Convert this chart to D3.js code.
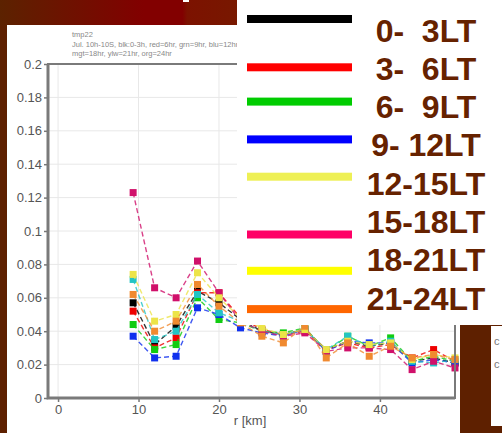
<!DOCTYPE html>
<html>
<head>
<meta charset="utf-8">
<script src="https://cdn.jsdelivr.net/npm/d3@7"></script>
<style>
  body { margin: 0; background: #5e2000; }
  svg { display: block; }
</style>
</head>
<body>
<script>

    // radius of each sample (km)
    var radius = [9.33, 12, 14.67, 17.33, 20, 22.67, 25.33, 28, 30.67, 33.33, 36, 38.67, 41.33, 44, 46.67, 49.33];

    var lt00_03 = [0.057, 0.032, 0.043, 0.064, 0.057, 0.047, 0.040, 0.038, 0.041, 0.029, 0.034, 0.031, 0.033, 0.022, 0.024, 0.021];
    var lt03_06 = [0.052, 0.030, 0.036, 0.063, 0.063, 0.048, 0.041, 0.038, 0.040, 0.029, 0.033, 0.030, 0.032, 0.024, 0.029, 0.022];
    var lt06_09 = [0.044, 0.029, 0.032, 0.060, 0.047, 0.045, 0.040, 0.039, 0.042, 0.028, 0.037, 0.031, 0.036, 0.022, 0.025, 0.022];
    var lt09_12 = [0.037, 0.024, 0.025, 0.054, 0.050, 0.042, 0.039, 0.037, 0.041, 0.028, 0.034, 0.033, 0.033, 0.021, 0.023, 0.021];
    var lt12_15 = [0.071, 0.035, 0.040, 0.062, 0.051, 0.046, 0.040, 0.038, 0.041, 0.029, 0.037, 0.031, 0.034, 0.022, 0.021, 0.023];
    var lt15_18 = [0.123, 0.066, 0.060, 0.082, 0.063, 0.046, 0.040, 0.037, 0.039, 0.028, 0.030, 0.030, 0.029, 0.017, 0.022, 0.018];
    var lt18_21 = [0.074, 0.046, 0.050, 0.075, 0.060, 0.048, 0.042, 0.038, 0.041, 0.029, 0.034, 0.032, 0.033, 0.023, 0.026, 0.024];
    var lt21_24 = [0.062, 0.040, 0.046, 0.068, 0.055, 0.045, 0.037, 0.033, 0.043, 0.024, 0.033, 0.025, 0.031, 0.024, 0.026, 0.023];

    var seriesValues = [lt00_03, lt03_06, lt06_09, lt09_12, lt12_15, lt15_18, lt18_21, lt21_24];
    var seriesColors = ["#000000", "#ee0000", "#11cc11", "#1030ee", "#22c4c4", "#d0106a", "#ece448", "#f08a30"];

    var legendLabels = ["0-  3LT", "3-  6LT", "6-  9LT", "9- 12LT", "12-15LT", "15-18LT", "18-21LT", "21-24LT"];
    var legendColors = ["#000000", "#ff0000", "#00cc00", "#0000ff", "#eef055", "#ff0066", "#ffff00", "#ff6600"];

    var titleLines = ["tmp22",
        "Jul. 10h-10S, blk:0-3h, red=6hr, grn=9hr, blu=12hr, cyn=15hr",
        "mgt=18hr, ylw=21hr, org=24hr"];

    var xTicks = [0, 10, 20, 30, 40];
    var yTicks = [0, 0.02, 0.04, 0.06, 0.08, 0.1, 0.12, 0.14, 0.16, 0.18, 0.2];
    var yTickLabels = ["0", "0.02", "0.04", "0.06", "0.08", "0.1", "0.12", "0.14", "0.16", "0.18", "0.2"];

    var W = 502, H = 433;
    var plot = { left: 48, right: 455, top: 64, bottom: 398 };

    var svg = d3.select("body").append("svg")
        .attr("width", W)
        .attr("height", H);

    // slide background
    var grad = svg.append("defs").append("linearGradient")
        .attr("id", "hdr")
        .attr("x1", "0").attr("x2", "1").attr("y1", "0").attr("y2", "0");
    grad.append("stop").attr("offset", "0").attr("stop-color", "#5c2200");
    grad.append("stop").attr("offset", "0.6").attr("stop-color", "#820000");
    grad.append("stop").attr("offset", "0.76").attr("stop-color", "#820000");
    grad.append("stop").attr("offset", "0.78").attr("stop-color", "#7c1200");
    grad.append("stop").attr("offset", "1").attr("stop-color", "#781800");

    svg.append("rect").attr("width", W).attr("height", H).attr("fill", "#5e2000");
    svg.append("rect").attr("width", 240).attr("height", 26).attr("fill", "url(#hdr)");
    // tip of the slide title glyph peeking in at the top
    svg.append("rect").attr("x", 183).attr("y", 0).attr("width", 6).attr("height", 2).attr("fill", "#fff");

    // white panel of the figure
    svg.append("rect")
        .attr("x", 7).attr("y", 25)
        .attr("width", 453).attr("height", H - 25)
        .attr("fill", "#fff");

    // bits of the next slide element, bottom right
    svg.append("rect").attr("x", 491).attr("y", 326).attr("width", 11).attr("height", 100).attr("fill", "#fff");
    svg.append("text").attr("x", 494).attr("y", 345)
        .style("font", "11px 'Liberation Sans', Arial, sans-serif").attr("fill", "#777").text("c");
    svg.append("text").attr("x", 494).attr("y", 368)
        .style("font", "11px 'Liberation Sans', Arial, sans-serif").attr("fill", "#777").text("c");

    var x = d3.scaleLinear()
        .domain([-1.25, 49.33])
        .range([plot.left, plot.right]);

    var y = d3.scaleLinear()
        .domain([0, 0.2])
        .range([plot.bottom, plot.top]);

    // grid
    svg.append("g").selectAll("line")
        .data(yTicks)
        .enter().append("line")
        .attr("x1", plot.left).attr("x2", plot.right)
        .attr("y1", function (d) { return y(d); })
        .attr("y2", function (d) { return y(d); })
        .attr("stroke", "#e8e8e8");

    svg.append("g").selectAll("line")
        .data(xTicks)
        .enter().append("line")
        .attr("y1", plot.top).attr("y2", plot.bottom)
        .attr("x1", function (d) { return x(d); })
        .attr("x2", function (d) { return x(d); })
        .attr("stroke", "#e8e8e8");

    // title text
    svg.append("g").selectAll("text")
        .data(titleLines)
        .enter().append("text")
        .attr("x", 72)
        .attr("y", function (d, i) { return 37 + i * 9.5; })
        .style("font", "7.5px 'Liberation Sans', Arial, sans-serif")
        .attr("fill", "#888")
        .text(function (d) { return d; });

    // axes
    var xAxis = d3.axisBottom(x).tickValues(xTicks).tickSize(4).tickPadding(3),
        yAxis = d3.axisLeft(y).tickValues(yTicks).tickSize(4).tickPadding(2)
            .tickFormat(function (d, i) { return yTickLabels[i]; });

    var gx = svg.append("g")
        .attr("transform", "translate(0," + plot.bottom + ")")
        .call(xAxis);
    var gy = svg.append("g")
        .attr("transform", "translate(" + plot.left + ",0)")
        .call(yAxis);

    [gx, gy].forEach(function (g) {
        g.select(".domain").remove();
        g.selectAll(".tick line").attr("stroke", "#777").attr("stroke-width", 1.5);
        g.selectAll(".tick text")
            .attr("fill", "#555")
            .style("font", "13px 'Liberation Sans', Arial, sans-serif");
    });

    svg.append("text")
        .attr("x", 250).attr("y", 425)
        .style("text-anchor", "middle")
        .style("font", "13px 'Liberation Sans', Arial, sans-serif")
        .attr("fill", "#555")
        .text("r [km]");

    // series
    var line = d3.line()
        .x(function (d, i) { return x(radius[i]); })
        .y(function (d) { return y(d); });

    var series = svg.append("g").selectAll("g")
        .data(seriesValues)
        .enter().append("g");

    series.append("path")
        .attr("d", line)
        .attr("fill", "none")
        .attr("stroke", function (d, i) { return seriesColors[i]; })
        .attr("stroke-width", 1.4)
        .attr("stroke-dasharray", "5,3")
        .attr("opacity", 0.8);

    series.each(function (vals, k) {
        d3.select(this).selectAll("rect")
            .data(vals)
            .enter().append("rect")
            .attr("x", function (d, i) { return x(radius[i]) - 3.5; })
            .attr("y", function (d) { return y(d) - 3.5; })
            .attr("width", 7).attr("height", 7)
            .attr("fill", seriesColors[k]);
    });

    // axes frame
    svg.append("rect")
        .attr("x", plot.left).attr("y", plot.top)
        .attr("width", plot.right - plot.left)
        .attr("height", plot.bottom - plot.top)
        .attr("fill", "none")
        .attr("stroke", "#7a7a7a")
        .attr("stroke-width", 2);
    svg.append("path")
        .attr("d", "M" + plot.left + "," + plot.top + "V" + plot.bottom + "H" + plot.right)
        .attr("fill", "none")
        .attr("stroke", "#7a7a7a")
        .attr("stroke-width", 3);

    // pasted legend box
    svg.append("rect")
        .attr("x", 237).attr("y", 0)
        .attr("width", W - 237).attr("height", 325)
        .attr("fill", "#fff");

    var lineNudge = [-11, -1, -5, -5.5, -6.5, 13, 11, 11];

    var legend = svg.append("g").selectAll("g")
        .data(legendLabels)
        .enter().append("g")
        .attr("transform", function (d, i) { return "translate(0," + (30 + i * 38.3) + ")"; });

    legend.append("rect")
        .attr("x", 247)
        .attr("y", function (d, i) { return lineNudge[i] - 4; })
        .attr("width", 105).attr("height", 8)
        .attr("fill", function (d, i) { return legendColors[i]; });

    legend.append("text")
        .attr("x", 426)
        .attr("y", 11.5)
        .style("text-anchor", "middle")
        .style("white-space", "pre")
        .style("font", "bold 32px 'Liberation Sans', Arial, sans-serif")
        .attr("fill", "#662200")
        .text(function (d) { return d; });

</script>
</body>
</html>
